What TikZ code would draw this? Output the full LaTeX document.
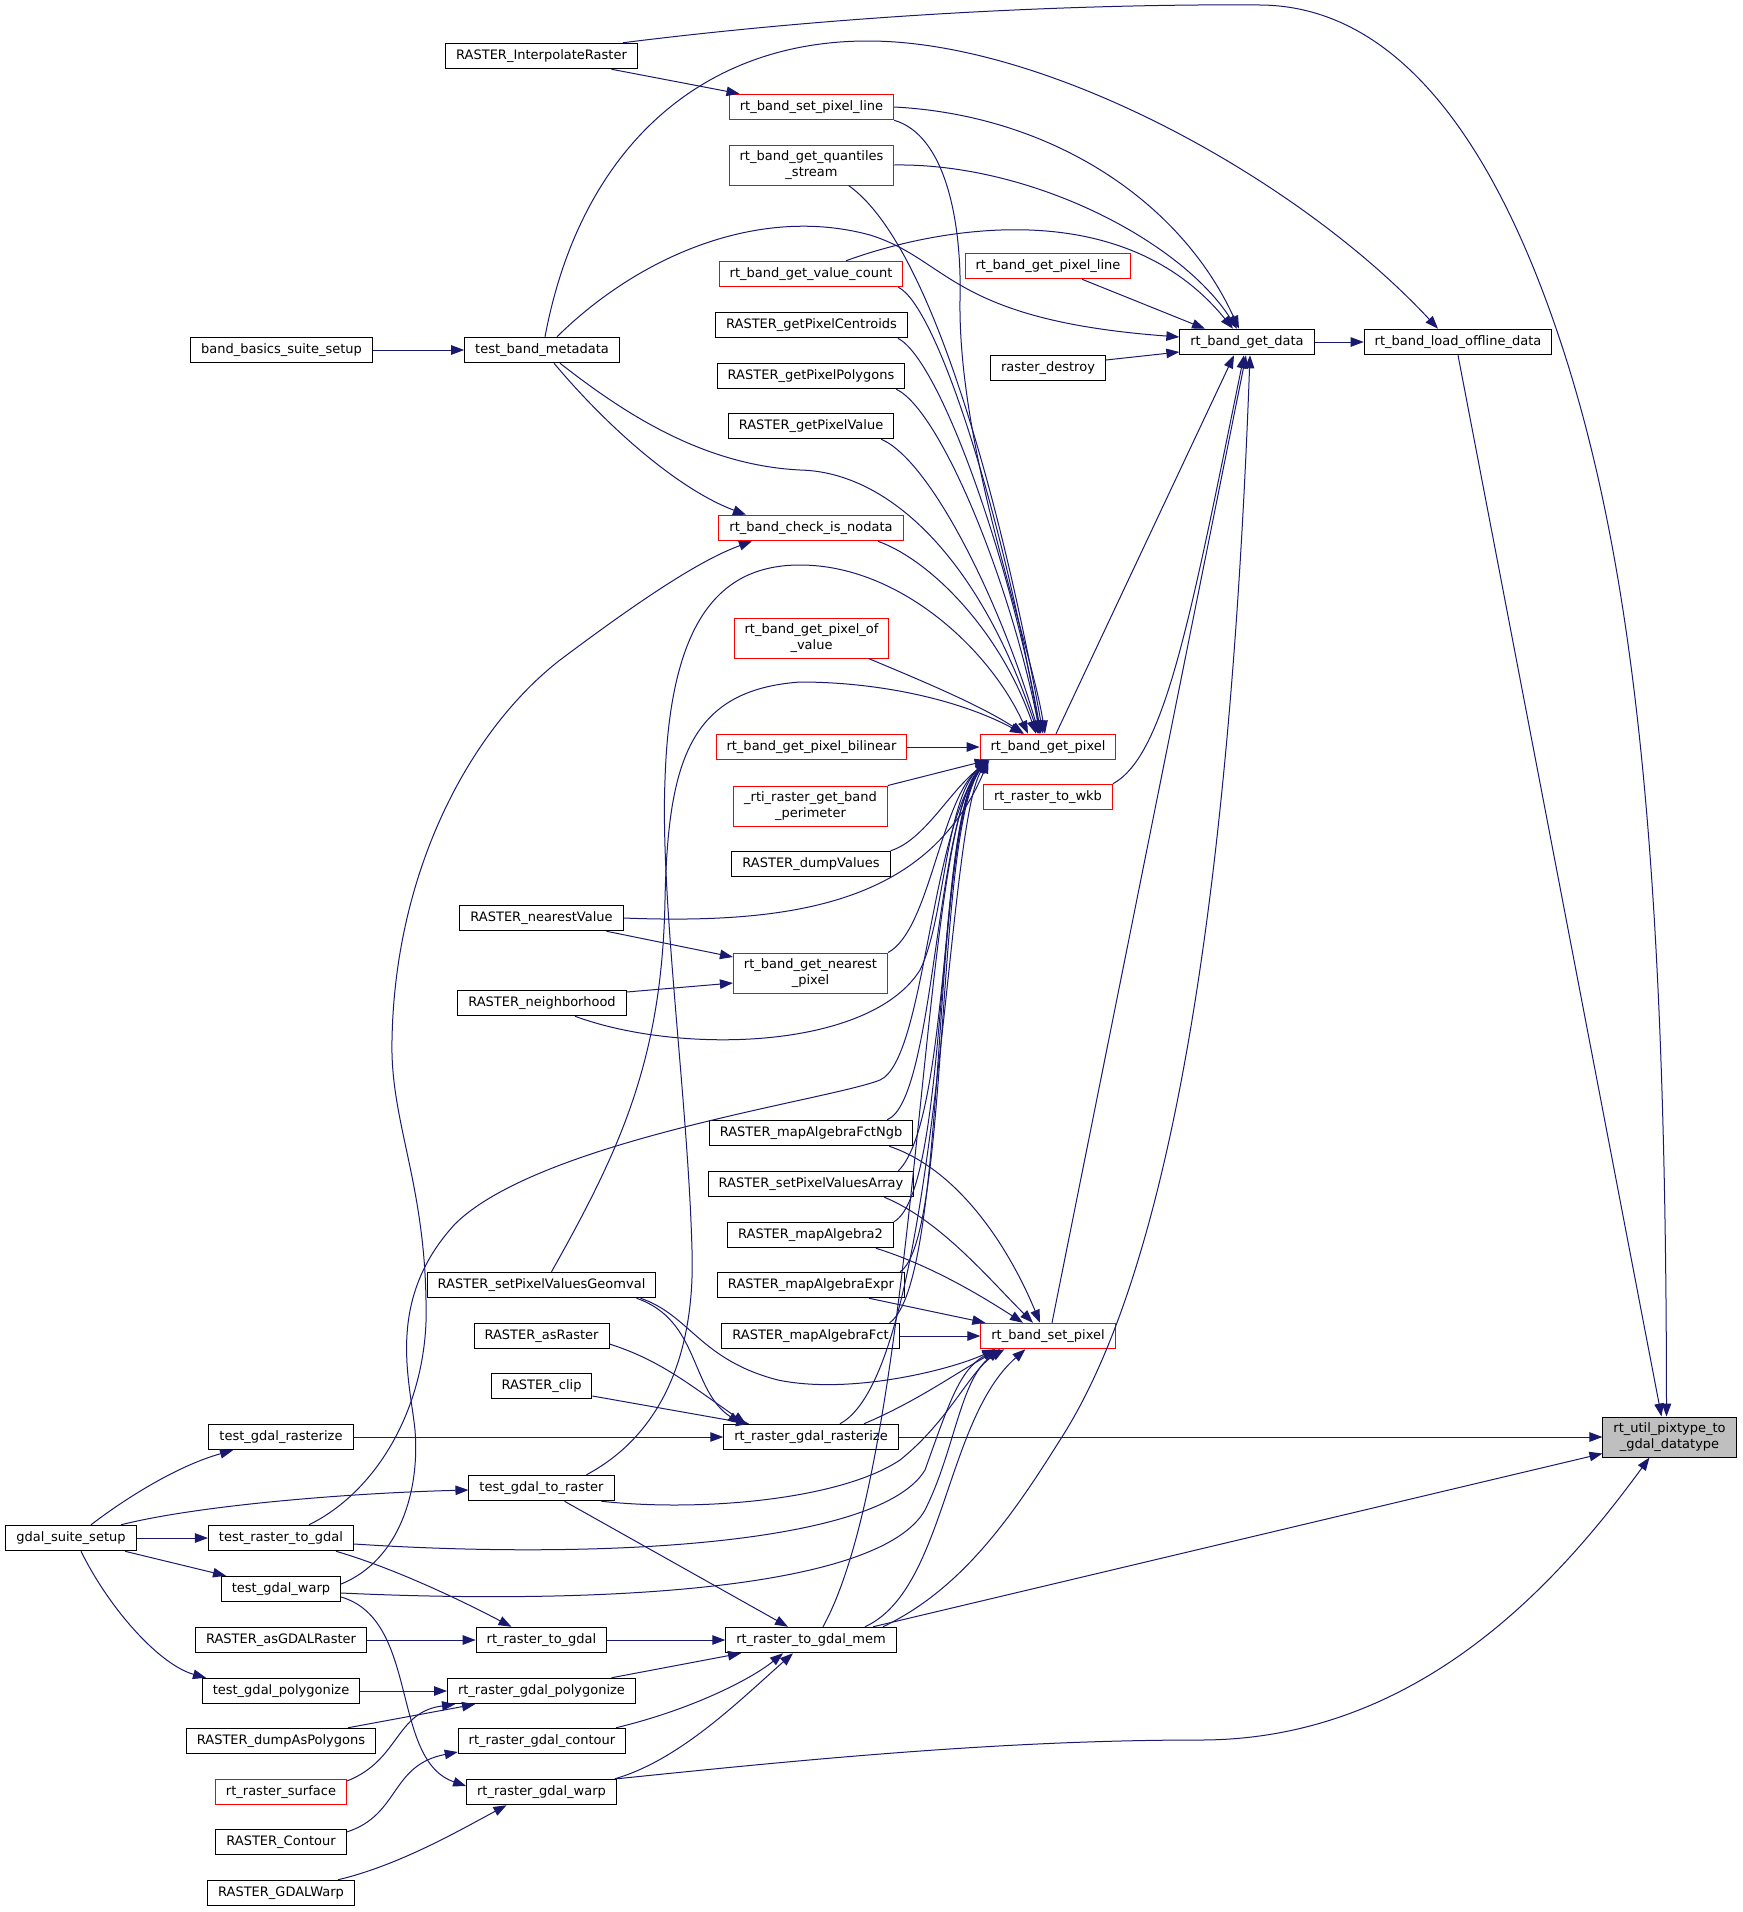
\documentclass[tikz,border=0pt]{standalone}
\usepackage{fontspec}
\setmainfont{DejaVu Sans}
\usetikzlibrary{arrows.meta}
\definecolor{edgeblue}{HTML}{191970}
\definecolor{rootgray}{HTML}{BFBFBF}

\begin{document}
\begin{tikzpicture}
  [x=1pt,y=-1pt,
   every node/.style={draw=black,fill=white,line width=1pt,inner xsep=10.5pt,inner ysep=0pt,
     minimum height=25.5pt,align=center,font=\fontsize{13}{15.2}\selectfont},
   hot/.style={draw=red},
   twoline/.style={minimum height=40pt},
   rootbox/.style={fill=rootgray,minimum height=40pt},
   arr/.style={draw=edgeblue,line width=1pt,-{Triangle[length=13pt,width=9.5pt]}}]
  \useasboundingbox (0,0) rectangle (1743,1912);
  \fill[white] (0,0) rectangle (1743,1912);

  \node (interp) at (541.5,56) {RASTER\_InterpolateRaster};
  \node[hot] (setpl) at (811.5,107) {rt\_band\_set\_pixel\_line};
  \node[hot,twoline] (quant) at (811.5,165) {rt\_band\_get\_quantiles\\\_stream};
  \node[hot] (valcnt) at (811,274) {rt\_band\_get\_value\_count};
  \node[hot] (getpl) at (1048,266) {rt\_band\_get\_pixel\_line};
  \node (centr) at (811.5,325) {RASTER\_getPixelCentroids};
  \node (bbss) at (281.5,350) {band\_basics\_suite\_setup};
  \node (tbm) at (542,350) {test\_band\_metadata};
  \node (getdata) at (1247,342) {rt\_band\_get\_data};
  \node (offline) at (1458,342) {rt\_band\_load\_offline\_data};
  \node (rdestroy) at (1048,368) {raster\_destroy};
  \node (polys) at (811,376) {RASTER\_getPixelPolygons};
  \node (pxval) at (811,426) {RASTER\_getPixelValue};
  \node[hot] (nodata) at (811,528) {rt\_band\_check\_is\_nodata};
  \node[hot,twoline] (pxofval) at (811.5,638) {rt\_band\_get\_pixel\_of\\\_value};
  \node[hot] (bilin) at (811.5,747) {rt\_band\_get\_pixel\_bilinear};
  \node[hot] (getpx) at (1048,747) {rt\_band\_get\_pixel};
  \node[hot,twoline] (perim) at (810.5,806) {\_rti\_raster\_get\_band\\\_perimeter};
  \node[hot] (wkb) at (1048,797) {rt\_raster\_to\_wkb};
  \node (dumpval) at (811,864) {RASTER\_dumpValues};
  \node (nearval) at (541.5,918) {RASTER\_nearestValue};
  \node[hot,twoline] (nearpx) at (810.5,973) {rt\_band\_get\_nearest\\\_pixel};
  \node (neigh) at (542,1003) {RASTER\_neighborhood};
  \node (fctngb) at (811,1133) {RASTER\_mapAlgebraFctNgb};
  \node (setarr) at (811,1184) {RASTER\_setPixelValuesArray};
  \node (alg2) at (810.5,1235) {RASTER\_mapAlgebra2};
  \node (geomval) at (541.5,1285) {RASTER\_setPixelValuesGeomval};
  \node (algexpr) at (811,1285) {RASTER\_mapAlgebraExpr};
  \node (asrast) at (541.5,1336) {RASTER\_asRaster};
  \node (algfct) at (810.5,1336) {RASTER\_mapAlgebraFct};
  \node[hot] (setpx) at (1048,1336) {rt\_band\_set\_pixel};
  \node (clip) at (541.5,1386) {RASTER\_clip};
  \node (tgrast) at (281,1437) {test\_gdal\_rasterize};
  \node (rasterize) at (811,1437) {rt\_raster\_gdal\_rasterize};
  \node[rootbox] (util) at (1669.5,1437) {rt\_util\_pixtype\_to\\\_gdal\_datatype};
  \node (tg2r) at (541.5,1488) {test\_gdal\_to\_raster};
  \node (suite) at (71,1538) {gdal\_suite\_setup};
  \node (tr2g) at (281,1538) {test\_raster\_to\_gdal};
  \node (twarp) at (281,1589) {test\_gdal\_warp};
  \node (asgdal) at (281,1640) {RASTER\_asGDALRaster};
  \node (r2g) at (541.5,1640) {rt\_raster\_to\_gdal};
  \node (gmem) at (811,1640) {rt\_raster\_to\_gdal\_mem};
  \node (tpoly) at (281,1691) {test\_gdal\_polygonize};
  \node (poly) at (541.5,1691) {rt\_raster\_gdal\_polygonize};
  \node (dumppoly) at (281,1741) {RASTER\_dumpAsPolygons};
  \node (contour) at (542,1741) {rt\_raster\_gdal\_contour};
  \node[hot] (surface) at (281,1792) {rt\_raster\_surface};
  \node (gwarp) at (541.5,1792) {rt\_raster\_gdal\_warp};
  \node (rcontour) at (281,1842) {RASTER\_Contour};
  \node (gdalwarp) at (281,1893) {RASTER\_GDALWarp};

  % straight calls
  \foreach \from/\to in {bbss.east/tbm.west, getdata.east/offline.west, bilin.east/getpx.west,
      algfct.east/setpx.west, tgrast.east/rasterize.west, rasterize.east/util.west,
      suite.east/tr2g.west, asgdal.east/r2g.west, r2g.east/gmem.west, tpoly.east/poly.west}
    \draw[arr] (\from) -- (\to);
  \draw[arr] ([xshift=70pt]interp.south) -- ([xshift=-72pt]setpl.north);
  \draw[arr] (offline.south) -- ([xshift=-8pt]util.north);
  \draw[arr] ([xshift=62pt]gmem.north) -- ([yshift=4pt]util.south west);
  \draw[arr] ([xshift=34pt]getpl.south) -- ([xshift=-42pt]getdata.north);
  \draw[arr] ([yshift=8pt]rdestroy.east) -- ([yshift=-10pt]getdata.west);
  \draw[arr] ([xshift=8pt]getpx.north) -- ([xshift=-13pt]getdata.south);
  \draw[arr] ([xshift=4pt]setpx.north) -- ([xshift=-1pt]getdata.south);
  \draw[arr] (perim.north east) -- ([xshift=8pt]getpx.south west);
  \draw[arr] ([xshift=65pt]nearval.south) -- ([yshift=16pt]nearpx.west);
  \draw[arr] ([yshift=11pt]neigh.east) -- ([yshift=-10pt]nearpx.west);
  \draw[arr] ([yshift=-10pt]clip.east) -- ([xshift=-62pt]rasterize.north);
  \draw[arr] ([xshift=23pt]tg2r.south) -- ([xshift=-23pt]gmem.north);
  \draw[arr] ([xshift=70pt]poly.north) -- ([xshift=-70pt]gmem.south);
  \draw[arr] ([xshift=67pt]dumppoly.north) -- ([xshift=28pt]poly.south west);
  \draw[arr] ([xshift=54pt]suite.south) -- ([xshift=-55pt]twarp.north);
  \draw[arr] ([xshift=-36pt]algexpr.south east) -- ([xshift=5pt]setpx.north west);

  % long calls into the root
  \draw[arr] ([xshift=-15pt]interp.north east) .. controls (900,8) and (1150,4) .. (1260,5)
    .. controls (1420,6) and (1510,190) .. (1560,340)
    .. controls (1640,580) and (1666,900) .. ([xshift=-3pt]util.north);
  \draw[arr] (gwarp.north east) .. controls (800,1760) and (1000,1740) .. (1200,1740)
    .. controls (1420,1740) and (1560,1580) .. ([xshift=-20pt]util.south);
  \draw[arr] ([xshift=3pt]tbm.north) .. controls (580,150) and (700,40) .. (870,41)
    .. controls (1050,42) and (1300,180) .. ([xshift=-20pt]offline.north);

  % into rt_band_get_data
  \draw[arr] (setpl.east) .. controls (1050,115) and (1180,200) .. ([xshift=-8pt]getdata.north);
  \draw[arr] (quant.east) .. controls (1030,163) and (1180,240) .. ([xshift=-10pt]getdata.north);
  \draw[arr] ([xshift=35pt]valcnt.north) .. controls (930,230) and (1120,190) .. ([xshift=-14pt]getdata.north);
  \draw[arr] ([xshift=15pt]tbm.north) .. controls (640,255) and (760,205) .. (870,235)
    .. controls (950,260) and (950,320) .. ([yshift=5pt]getdata.west);
  \draw[arr] (wkb.north east) .. controls (1165,755) and (1190,620) .. ([xshift=-3pt]getdata.south);
  \draw[arr] ([xshift=72pt]gmem.north) .. controls (960,1590) and (1010,1520) .. (1060,1440)
    .. controls (1170,1270) and (1230,900) .. ([xshift=3pt]getdata.south);

  % into rt_band_get_pixel, from above
  \draw[arr] (setpl.south east) .. controls (945,135) and (962,220) .. (960,300)
    .. controls (958,450) and (1030,640) .. ([xshift=-3pt]getpx.north);
  \draw[arr] ([xshift=37pt]quant.south) .. controls (940,250) and (1010,550) .. ([xshift=-5pt]getpx.north);
  \draw[arr] ([xshift=-5pt]valcnt.south east) .. controls (935,305) and (1000,500) .. ([xshift=-8pt]getpx.north);
  \draw[arr] ([xshift=-10pt]centr.south east) .. controls (940,360) and (1010,560) .. ([xshift=-7pt]getpx.north);
  \draw[arr] ([xshift=-9pt]polys.south east) .. controls (940,410) and (1010,580) .. ([xshift=-8pt]getpx.north);
  \draw[arr] ([xshift=-13pt]pxval.south east) .. controls (930,460) and (1000,600) .. ([xshift=-9pt]getpx.north);
  \draw[arr] ([xshift=18pt]tbm.south) .. controls (620,410) and (700,465) .. (800,470)
    .. controls (890,472) and (980,560) .. ([xshift=-10pt]getpx.north);
  \draw[arr] ([xshift=12pt]tbm.south) .. controls (610,430) and (680,490) .. ([xshift=-65pt]nodata.north);
  \draw[arr] ([xshift=67pt]nodata.south) .. controls (930,560) and (1000,630) .. ([xshift=-12pt]getpx.north);
  \draw[arr] ([xshift=57pt]pxofval.south) .. controls (920,680) and (980,705) .. ([xshift=-24pt]getpx.north);
  \draw[arr] ([xshift=45pt]tg2r.north) .. controls (670,1430) and (695,1340) .. (692,1250)
    .. controls (688,1100) and (660,900) .. (665,780)
    .. controls (670,620) and (720,565) .. (800,565)
    .. controls (900,565) and (990,650) .. ([xshift=-20pt]getpx.north);
  \draw[arr] ([xshift=10pt]geomval.north) .. controls (620,1150) and (662,1060) .. (665,900)
    .. controls (668,760) and (690,690) .. (800,682)
    .. controls (880,682) and (960,700) .. ([xshift=-25pt]getpx.north);

  % into rt_band_get_pixel, from below
  \draw[arr] ([yshift=5pt]twarp.east) .. controls (400,1560) and (420,1490) .. (415,1430)
    .. controls (410,1380) and (385,1300) .. (455,1224)
    .. controls (540,1140) and (830,1100) .. (880,1080)
    .. controls (925,1060) and (930,830) .. ([xshift=8pt]getpx.south west);
  \draw[arr] (dumpval.north east) .. controls (925,840) and (950,790) .. ([xshift=10pt]getpx.south west);
  \draw[arr] (nearval.east) .. controls (800,925) and (930,900) .. ([xshift=9pt]getpx.south west);
  \draw[arr] (nearpx.north east) .. controls (930,930) and (940,800) .. ([xshift=9pt]getpx.south west);
  \draw[arr] ([xshift=33pt]neigh.south) .. controls (680,1055) and (870,1050) .. (920,970)
    .. controls (945,920) and (945,800) .. ([xshift=8pt]getpx.south west);
  \draw[arr] ([xshift=-26pt]fctngb.north east) .. controls (935,1100) and (935,820) .. ([xshift=8pt]getpx.south west);
  \draw[arr] ([xshift=-16pt]setarr.north east) .. controls (950,1120) and (940,820) .. ([xshift=8pt]getpx.south west);
  \draw[arr] (alg2.north east) .. controls (950,1190) and (935,820) .. ([xshift=8pt]getpx.south west);
  \draw[arr] ([xshift=-5pt]algexpr.north east) .. controls (950,1240) and (935,830) .. ([xshift=8pt]getpx.south west);
  \draw[arr] ([xshift=-10pt]algfct.north east) .. controls (950,1280) and (930,830) .. ([xshift=8pt]getpx.south west);
  \draw[arr] ([xshift=29pt]rasterize.north) .. controls (940,1370) and (945,830) .. ([xshift=8pt]getpx.south west);
  \draw[arr] ([xshift=12pt]gmem.north) .. controls (920,1450) and (920,830) .. ([xshift=8pt]getpx.south west);

  % rt_band_check_is_nodata from the gdal tests
  \draw[arr] ([xshift=28pt]tr2g.north) .. controls (380,1490) and (430,1400) .. (426,1300)
    .. controls (424,1180) and (390,1120) .. (392,1040)
    .. controls (395,870) and (470,730) .. (560,660)
    .. controls (640,600) and (700,560) .. ([xshift=-59pt]nodata.south);

  % into rt_band_set_pixel
  \draw[arr] ([xshift=-24pt]fctngb.south east) .. controls (960,1170) and (1010,1250) .. ([xshift=-8pt]setpx.north);
  \draw[arr] ([xshift=-30pt]setarr.south east) .. controls (940,1220) and (990,1280) .. ([xshift=-15pt]setpx.north);
  \draw[arr] ([xshift=-18pt]alg2.south east) .. controls (930,1265) and (980,1295) .. ([xshift=-25pt]setpx.north);
  \draw[arr] ([xshift=99pt]geomval.south) .. controls (690,1315) and (700,1360) .. (778,1380)
    .. controls (850,1395) and (950,1370) .. ([xshift=15pt]setpx.south west);
  \draw[arr] ([xshift=53pt]rasterize.north) .. controls (920,1400) and (960,1370) .. ([xshift=20pt]setpx.south west);
  \draw[arr] ([xshift=54pt]gmem.north) .. controls (945,1590) and (945,1420) .. ([xshift=45pt]setpx.south west);
  \draw[arr] ([xshift=60pt]tg2r.south) .. controls (700,1512) and (840,1500) .. (900,1460)
    .. controls (950,1420) and (970,1370) .. ([xshift=24pt]setpx.south west);
  \draw[arr] ([yshift=-6pt]tr2g.east) .. controls (600,1560) and (880,1545) .. (925,1470)
    .. controls (950,1400) and (960,1370) .. ([xshift=15pt]setpx.south west);
  \draw[arr] ([yshift=-4pt]twarp.east) .. controls (600,1605) and (880,1590) .. (925,1510)
    .. controls (955,1450) and (960,1380) .. ([xshift=20pt]setpx.south west);

  % into rt_raster_gdal_rasterize
  \draw[arr] ([xshift=95pt]geomval.south) .. controls (700,1320) and (690,1390) .. ([xshift=-70pt]rasterize.north);
  \draw[arr] ([yshift=-8pt]asrast.east) .. controls (660,1360) and (690,1385) .. ([xshift=-65pt]rasterize.north);

  % gdal suite and the gdal wrappers
  \draw[arr] ([xshift=20pt]suite.north) .. controls (130,1495) and (180,1465) .. ([xshift=-48pt]tgrast.south);
  \draw[arr] ([xshift=50pt]suite.north) .. controls (200,1505) and (350,1493) .. ([yshift=-2pt]tg2r.west);
  \draw[arr] ([xshift=10pt]suite.south) .. controls (110,1610) and (160,1665) .. ([xshift=-75pt]tpoly.north);
  \draw[arr] ([xshift=55pt]tr2g.south) .. controls (400,1570) and (470,1605) .. ([xshift=-30pt]r2g.north);
  \draw[arr] ([yshift=-8pt]twarp.east) .. controls (420,1620) and (390,1760) .. ([yshift=6pt]gwarp.west);
  \draw[arr] ([yshift=11pt]surface.east) .. controls (400,1760) and (395,1712) .. ([xshift=8pt]poly.south west);
  \draw[arr] ([yshift=10pt]rcontour.east) .. controls (400,1815) and (390,1765) .. ([yshift=-11pt]contour.west);
  \draw[arr] ([xshift=57pt]gdalwarp.north) .. controls (400,1865) and (460,1830) .. ([xshift=-35pt]gwarp.south);
  \draw[arr] ([xshift=74pt]contour.north) .. controls (690,1710) and (750,1680) .. ([xshift=-28pt]gmem.south);
  \draw[arr] ([xshift=-2pt]gwarp.north east) .. controls (680,1760) and (740,1700) .. ([xshift=-18pt]gmem.south);
\end{tikzpicture}
\end{document}
